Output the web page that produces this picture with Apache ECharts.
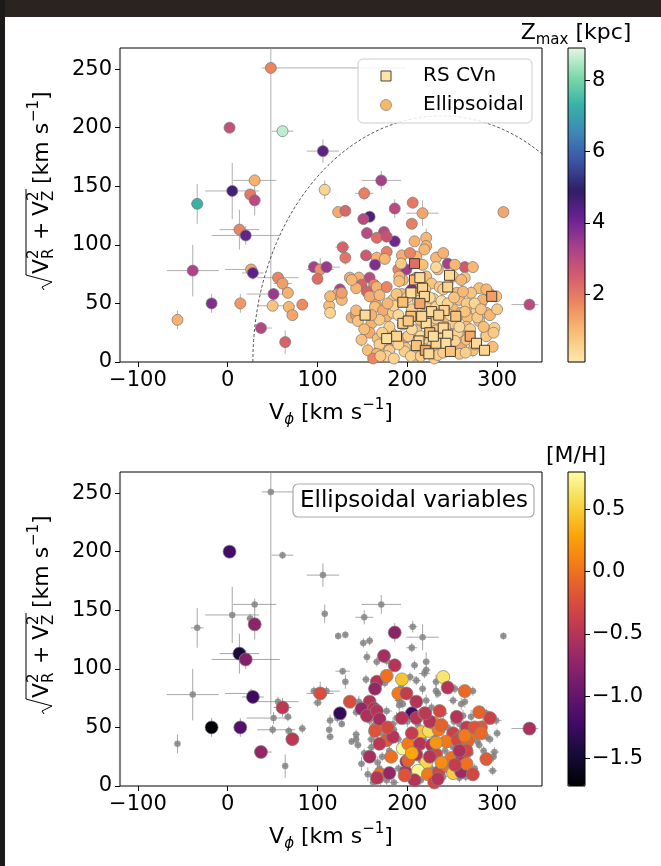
<!DOCTYPE html>
<html>
<head>
<meta charset="utf-8">
<script src="https://cdn.jsdelivr.net/npm/echarts@6/dist/echarts.min.js"></script>
<style>
html, body { margin: 0; padding: 0; background: #fff; }
#chart { width: 661px; height: 866px; }
</style>
</head>
<body>
<div id="chart"></div>
<script>
const font = "'DejaVu Sans', sans-serif"

// ellipsoidal variables: Vphi, sqrt(VR^2+VZ^2), Zmax, [M/H] (null = no metallicity)
const ellVphi = [
  48, 2, 61, 106, 30, 5, 25, 30, -34, 13,
  20, -39, 26, 28, -18, 14, -56, 37, 64, 56,
  61, 51, 67, 50, 68, 72, 83, 108, 96, 103,
  100, 110, 123, 131, 128, 131, 136, 125, 122, 127,
  113, 114, 138, 143, 171, 152, 206, 186, 217, 158,
  151, 205, 307, 155, 174, 166, 186, 177, 208, 221,
  221, 154, 166, 177, 164, 175, 146, 158, 149, 163,
  143, 155, 190, 199, 195, 210, 232, 240, 245, 264,
  273, 191, 221, 234, 251, 264, 194, 210, 205, 194,
  210, 219, 255, 292, 165, 216, 224, 235, 251, 260,
  270, 282, 177, 195, 201, 214, 227, 243, 256, 267,
  182, 199, 210, 221, 232, 249, 261, 288, 169, 180,
  198, 212, 223, 235, 245, 251, 260, 208, 230, 336,
  138, 166, 177, 191, 227, 236, 260, 280, 271, 158,
  169, 184, 229, 258, 266, 284, 299, 143, 164, 173,
  184, 232, 264, 277, 288, 145, 160, 169, 180, 232,
  251, 266, 280, 297, 149, 158, 167, 201, 256, 266,
  288, 169, 156, 166, 180, 197, 204, 234, 258, 273,
  295, 162, 177, 219, 232, 253, 217, 193, 203, 114,
  127, 185, 190, 205, 212, 218, 225, 230, 238, 242,
  245, 252, 258, 262, 270, 275, 278, 285, 190, 200,
  205, 215, 225, 228, 238, 240, 248, 253, 265, 275,
  282, 292, 300, 188, 172, 178, 160, 152, 170, 185,
  215, 220, 240, 288, 296
]
const ellVrz = [
  251, 200, 197, 180, 155, 146, 143, 138, 135, 113,
  108, 78, 79, 76, 50, 50, 36, 29, 17, 72,
  67, 58, 59, 48, 47, 40, 49, 147, 81, 79,
  71, 81, 128, 129, 98, 89, 72, 62, 58, 53,
  48, 42, 38, 40, 155, 144, 136, 131, 127, 124,
  122, 118, 128, 110, 111, 106, 103, 107, 103, 106,
  99, 91, 89, 94, 83, 88, 72, 72, 66, 66,
  63, 60, 79, 79, 70, 90, 89, 93, 84, 81,
  81, 73, 73, 79, 73, 72, 91, 72, 62, 58,
  58, 62, 59, 58, 49, 46, 47, 48, 45, 42,
  43, 50, 39, 32, 36, 36, 35, 38, 39, 38,
  25, 21, 27, 20, 27, 24, 23, 23, 10, 11,
  12, 13, 10, 12, 17, 11, 12, 5, 3, 49,
  70, 64, 64, 69, 67, 64, 70, 63, 59, 56,
  57, 53, 54, 53, 50, 53, 56, 44, 47, 44,
  42, 47, 43, 44, 42, 35, 33, 36, 30, 37,
  33, 30, 35, 29, 19, 25, 20, 22, 25, 19,
  22, 15, 10, 7, 10, 9, 5, 6, 7, 10,
  13, 3, 5, 96, 81, 83, 83, 84, 93, 56,
  59, 48, 40, 45, 52, 40, 55, 42, 52, 30,
  50, 55, 30, 60, 28, 50, 38, 30, 15, 55,
  28, 22, 25, 14, 20, 8, 40, 18, 8, 15,
  45, 40, 45, 58, 25, 50, 40, 28, 5, 3,
  5, 62, 62, 62, 25
]
const ellZmax = [
  1.8, 2.8, 8.6, 4.3, 1.1, 4.6, 2.0, 3.0, 7.3, 1.8,
  4.2, 3.2, 1.3, 4.3, 3.8, 1.5, 1.1, 3.1, 2.4, 1.8,
  1.4, 3.5, 1.1, 0.8, 1.0, 1.3, 1.7, 0.5, 3.3, 1.6,
  2.2, 3.5, 1.2, 2.3, 2.4, 2.1, 1.2, 3.2, 1.3, 1.0,
  0.9, 0.5, 1.1, 1.5, 3.3, 1.9, 2.0, 3.0, 1.3, 4.5,
  3.0, 1.9, 1.3, 3.0, 3.0, 2.2, 4.0, 2.8, 1.1, 1.0,
  1.1, 2.6, 1.1, 1.9, 3.8, 1.0, 1.1, 3.0, 2.4, 1.8,
  1.1, 2.4, 1.8, 3.4, 1.0, 1.0, 1.0, 1.1, 3.3, 2.6,
  1.0, 1.0, 0.9, 1.0, 0.9, 0.8, 1.2, 1.5, 3.8, 1.0,
  0.8, 0.9, 1.0, 1.8, 1.2, 0.6, 0.7, 0.8, 1.0, 0.9,
  1.0, 0.9, 1.1, 0.5, 0.7, 0.8, 0.9, 0.8, 1.0, 0.9,
  0.7, 1.6, 0.8, 0.5, 0.7, 0.8, 1.0, 0.7, 0.9, 1.5,
  0.8, 0.4, 0.6, 0.7, 0.6, 0.5, 1.2, 0.9, 0.6, 3.0,
  1.0, 1.1, 1.8, 0.9, 0.8, 0.7, 1.0, 0.9, 0.8, 1.2,
  1.0, 0.7, 0.6, 0.9, 0.7, 1.1, 0.8, 1.0, 0.9, 1.2,
  0.6, 0.5, 0.8, 0.6, 0.9, 0.8, 1.1, 0.7, 0.6, 0.6,
  0.7, 0.9, 0.8, 0.6, 0.8, 1.2, 0.9, 0.6, 0.5, 0.8,
  0.7, 0.6, 0.9, 1.0, 0.7, 0.6, 0.5, 0.6, 0.7, 0.8,
  0.9, 1.8, 0.5, 1.0, 0.4, 1.0, 0.9, 0.7, 1.8, 1.0,
  1.4, 0.5, 0.4, 0.6, 0.3, 0.5, 0.4, 0.7, 0.3, 0.6,
  0.5, 0.8, 0.4, 1.0, 0.6, 0.5, 0.7, 0.9, 0.5, 0.6,
  0.4, 0.3, 0.5, 0.4, 0.5, 0.6, 0.4, 0.5, 0.6, 0.5,
  0.8, 1.0, 0.7, 0.8, 0.6, 1.0, 1.1, 0.9, 0.7, 0.5,
  0.6, 0.5, 0.6, 1.0, 0.7
]
const ellMH = [
  null, -1.2, null, null, null, null, null, -0.75, null, -1.45,
  -0.8, null, null, -1.25, -1.75, -1.1, null, -0.7, null, null,
  -0.45, null, null, null, null, -0.45, null, null, null, -0.25,
  null, null, null, null, null, null, -0.25, -1.3, null, null,
  null, null, null, null, null, null, null, -0.75, null, null,
  null, null, null, null, -0.6, null, -0.5, null, null, null,
  null, null, -0.5, 0.0, -0.7, null, null, -0.5, -0.7, -0.5,
  null, -0.55, 0.05, -0.4, null, null, null, 0.65, -0.5, -0.05,
  null, null, null, null, null, null, 0.45, -0.5, -1.2, -0.5,
  -0.5, -0.2, -0.5, -0.35, 0.0, 0.45, 0.6, 0.05, -0.35, -0.2,
  0.0, -0.15, -0.15, 0.75, 0.05, -0.5, -0.5, 0.05, -0.3, -0.1,
  0.0, -0.75, -0.5, 0.55, -0.3, 0.0, -0.5, -0.15, 0.0, -0.7,
  -0.5, 0.75, 0.05, -0.3, 0.0, 0.5, -0.65, -0.5, -0.3, -0.55,
  null, -0.5, null, null, null, -0.3, null, -0.1, null, null,
  -0.6, null, 0.1, null, -0.4, null, null, null, -0.2, null,
  -0.5, null, 0.05, null, null, null, null, -0.45, null, 0.2,
  null, -0.3, null, null, null, -0.6, null, -0.1, null, 0.0,
  null, null, null, -0.5, null, -0.2, null, -0.5, null, -0.3,
  null, null, null, null, null, null, null, null, null, null,
  null, null, null, -0.4, null, null, -0.5, null, -0.1, null,
  null, null, -0.55, null, null, -0.2, null, null, null, null,
  0.3, null, -0.5, null, 0.15, null, null, -0.4, null, null,
  -0.05, null, null, null, null, -0.3, null, null, null, null,
  null, -0.45, null, null, null
]
// errors: a number is symmetric, a pair is [lower, upper]
const ellVphiErr = [
  [10, 150], 3, 12, 18, 24, 30, 4, 4, 7, 22,
  38, 29, [29, 5], 12, 3, 6, 3, [3, 12], 3, 23,
  10, [30, 20], 4, [17, 25], 4, 3, 4, 3, 4, 15,
  5, 15, 3, 3, 8, 3, 4, 3, 4, 3,
  3, 4, 3, 3, 22, 10, 5, 4, 18, 4,
  4, 6, 3, 4, 4, 4, 4, 4, 4, 4,
  5, 4, 4, 6, 4, 5, 4, 4, 5, 4,
  4, 4, 5, 4, 4, 5, 4, 4, 5, 4,
  4, 5, 4, 4, 5, 4, 4, 5, 4, 4,
  5, 4, 4, 5, 4, 4, 5, 4, 4, 6,
  4, 5, 4, 4, 5, 4, 4, 5, 4, 4,
  4, 5, 4, 4, 5, 4, 4, 5, 4, 4,
  5, 4, 4, 5, 4, 4, 5, 4, 4, [20, 10],
  5, 4, 6, 4, 5, 4, 4, 6, 4, 5,
  4, 6, 4, 5, 4, 4, 6, 4, 5, 4,
  4, 5, 4, 6, 4, 4, 5, 4, 4, 5,
  6, 4, 4, 5, 4, 6, 4, 4, 5, 4,
  4, 5, 4, 4, 6, 4, 4, 5, 4, 4,
  5, 4, 4, 6, 4, 5, 4, 4, 6, 4,
  5, 4, 4, 5, 4, 4, 5, 4, 4, 5,
  4, 4, 5, 4, 4, 5, 4, 4, 5, 4,
  4, 5, 4, 4, 5, 4, 4, 5, 4, 4,
  5, 4, 4, 5, 4, 4, 5, 4, 4, 5,
  4, 4, 5, 4, 4
]
const ellVrzErr = [
  190, 3, 3, 10, 5, 24, 4, 13, 17, 17,
  8, 22, 4, 6, 8, 8, 8, 3, 10, 4,
  8, 5, 4, 4, 4, 3, 4, 8, 4, 10,
  4, 4, 3, 3, 3, 6, 4, 4, 4, 3,
  3, 3, 3, 3, 8, 6, 5, 8, 11, 4,
  4, 4, 3, 5, 4, 4, 4, 4, 4, 8,
  4, 4, 5, 4, 4, 4, 5, 4, 4, 5,
  4, 4, 4, 5, 4, 4, 6, 4, 4, 5,
  4, 4, 5, 4, 4, 5, 4, 4, 5, 4,
  4, 5, 4, 4, 5, 4, 4, 5, 4, 4,
  5, 4, 4, 5, 4, 4, 5, 4, 4, 5,
  4, 4, 5, 4, 4, 5, 4, 4, 5, 4,
  4, 5, 4, 4, 5, 4, 4, 5, 4, 3,
  4, 5, 4, 6, 4, 4, 5, 4, 6, 4,
  5, 4, 4, 5, 4, 6, 4, 4, 5, 4,
  4, 6, 4, 5, 4, 4, 5, 4, 4, 6,
  4, 5, 4, 4, 6, 4, 5, 4, 4, 5,
  4, 4, 6, 4, 5, 4, 4, 5, 4, 6,
  4, 5, 4, 4, 6, 4, 5, 4, 4, 5,
  4, 4, 5, 4, 4, 5, 4, 4, 5, 4,
  5, 4, 4, 5, 4, 4, 5, 4, 4, 5,
  4, 5, 4, 4, 5, 4, 4, 5, 4, 4,
  5, 4, 4, 5, 4, 4, 5, 4, 4, 5,
  4, 4, 5, 4, 4
]

// RS CVn variables
const rsVphi = [208, 247, 245, 208, 214, 217, 204, 219, 195, 214, 294, 153, 204, 227, 241, 254, 195, 221, 240, 216,
  188, 177, 225, 245, 270, 213, 232, 243, 277, 210, 220, 286, 248, 224, 201, 229, 235]
const rsVrz = [84, 74, 64, 70, 72, 63, 59, 56, 51, 50, 56, 40, 39, 43, 44, 39, 33, 33, 29, 39,
  22, 20, 25, 23, 22, 18, 16, 16, 16, 14, 10, 10, 9, 7, 35, 22, 40]
const rsZmax = [2.2, 0.4, 0.5, 1.0, 0.4, 0.5, 0.3, 0.4, 0.9, 1.3, 1.4, 0.4, 0.9, 0.4, 0.5, 0.8, 0.5, 0.3, 0.4, 0.5,
  0.5, 0.3, 0.9, 0.3, 1.2, 0.4, 0.5, 0.3, 0.4, 0.8, 1.4, 0.5, 0.8, 0.4, 0.7, 0.3, 0.5]
const rsVphiErr = [3, 4, 3, 3, 4, 3, 3, 4, 3, 3, 5, 3, 3, 4, 3, 3, 3, 4, 3, 3,
  3, 4, 3, 3, 4, 3, 3, 3, 4, 3, 3, 4, 3, 3, 3, 4, 3]
const rsVrzErr = [3, 3, 4, 3, 3, 4, 3, 3, 4, 3, 4, 3, 3, 4, 3, 3, 4, 3, 3, 4,
  3, 3, 4, 3, 3, 4, 3, 3, 4, 3, 3, 4, 3, 3, 4, 3, 3]

const xTicks = [-100, 0, 100, 200, 300]
const yTicks = [0, 50, 100, 150, 200, 250]
const zTicks = [2, 4, 6, 8]
const mhTicks = [-1.5, -1.0, -0.5, 0.0, 0.5]

// boundary curve |V - V_lsr| = const
const curveCenter = 238
const curveRadius = 210

const zColors = ['#fde9ac', '#f9bf77', '#ee8a5f', '#d55c6c', '#a8418c', '#6a2391',
  '#2f1d68', '#3a52a3', '#3d86b8', '#36b3a6', '#7fd9ab', '#e3f7e3']
const infernoColors = ['#000004', '#160b39', '#420a68', '#6a176e', '#932667', '#bc3754',
  '#dd513a', '#f37819', '#fca50a', '#f6d746', '#fcffa4']

const X_MIN = -120, X_MAX = 350, Y_MIN = 0, Y_MAX = 268

const lo = e => (Array.isArray(e) ? e[0] : e)
const hi = e => (Array.isArray(e) ? e[1] : e)
const minus = v => (v < 0 ? '\u2212' + Math.abs(v) : String(v))

const ellTop = ellVphi.map((x, i) => [x, ellVrz[i], ellZmax[i]])
const ellErr = ellVphi.map((x, i) => [x, ellVrz[i],
  x - lo(ellVphiErr[i]), x + hi(ellVphiErr[i]),
  ellVrz[i] - lo(ellVrzErr[i]), ellVrz[i] + hi(ellVrzErr[i])])
const rsTop = rsVphi.map((x, i) => [x, rsVrz[i], rsZmax[i]])
const rsErr = rsVphi.map((x, i) => [x, rsVrz[i],
  x - rsVphiErr[i], x + rsVphiErr[i], rsVrz[i] - rsVrzErr[i], rsVrz[i] + rsVrzErr[i]])
const mhData = []
ellVphi.forEach((x, i) => {
  if (ellMH[i] !== null) mhData.push([x, ellVrz[i], ellMH[i]])
})

const curve = []
for (let a = 0; a <= 180; a++) {
  const t = a * Math.PI / 180
  curve.push([curveCenter - curveRadius * Math.cos(t), curveRadius * Math.sin(t)])
}

const clamp = (v, a, b) => Math.max(a, Math.min(b, v))
const errorBars = color => (params, api) => {
  const x = api.value(0), y = api.value(1)
  const a = api.coord([clamp(api.value(2), X_MIN, X_MAX), y])
  const b = api.coord([clamp(api.value(3), X_MIN, X_MAX), y])
  const c = api.coord([x, clamp(api.value(4), Y_MIN, Y_MAX)])
  const d = api.coord([x, clamp(api.value(5), Y_MIN, Y_MAX)])
  const st = { stroke: color, lineWidth: 1 }
  return {
    type: 'group',
    children: [
      { type: 'line', shape: { x1: a[0], y1: a[1], x2: b[0], y2: b[1] }, style: st },
      { type: 'line', shape: { x1: c[0], y1: c[1], x2: d[0], y2: d[1] }, style: st }
    ]
  }
}

const tickFont = { fontSize: 21, color: '#000', fontFamily: font }

const sciX = gi => ({
  gridIndex: gi, type: 'value', min: X_MIN, max: X_MAX,
  axisLine: { show: false, onZero: false },
  axisTick: { show: true, length: 5, customValues: xTicks, lineStyle: { color: '#000' } },
  axisLabel: Object.assign({ customValues: xTicks, margin: 8, formatter: minus }, tickFont),
  splitLine: { show: false }
})
const sciY = gi => ({
  gridIndex: gi, type: 'value', min: Y_MIN, max: Y_MAX,
  axisLine: { show: false, onZero: false },
  axisTick: { show: true, length: 5, customValues: yTicks, lineStyle: { color: '#000' } },
  axisLabel: Object.assign({ customValues: yTicks, margin: 8 }, tickFont),
  splitLine: { show: false }
})
const cbY = (gi, min, max, ticks, fmt) => ({
  gridIndex: gi, type: 'value', position: 'right', min, max,
  axisLine: { show: false, onZero: false },
  axisTick: { show: true, length: 5, customValues: ticks, lineStyle: { color: '#000' } },
  axisLabel: Object.assign({ customValues: ticks, margin: 7, formatter: fmt }, tickFont),
  splitLine: { show: false }
})
const hiddenX = gi => ({ gridIndex: gi, type: 'value', show: false, min: 0, max: 1 })

// rotated y label: sqrt(VR^2 + VZ^2) [km s^-1]
const yLabel = (x, y) => {
  const t = (text, px, py, size) => ({
    type: 'text', x: px, y: py,
    style: { text, fontSize: size, fontFamily: font, fill: '#000', align: 'left', verticalAlign: 'middle' }
  })
  return {
    type: 'group', x, y, rotation: Math.PI / 2, z: 100,
    children: [
      { type: 'polyline', shape: { points: [[0, 3], [3, 1], [8, 11], [15, -15], [101, -15]] },
        style: { stroke: '#000', lineWidth: 1, fill: null } },
      t('V', 16, 1, 22), t('2', 31, -7, 15), t('R', 31, 8, 15),
      t('+', 50, 1, 22),
      t('V', 74, 1, 22), t('2', 89, -7, 15), t('Z', 89, 8, 15),
      t('[km s', 106, 1, 22), t('\u22121', 168, -7, 15), t(']', 190, 1, 22)
    ]
  }
}
const richUnits = {
  b: { fontSize: 22, fontFamily: font, lineHeight: 30, verticalAlign: 'middle' },
  sub: { fontSize: 15, fontFamily: font, lineHeight: 15, verticalAlign: 'bottom' },
  it: { fontSize: 15, fontFamily: font, fontStyle: 'italic', lineHeight: 15, verticalAlign: 'bottom' },
  sup: { fontSize: 15, fontFamily: font, lineHeight: 15, verticalAlign: 'top' }
}
const xLabel = (x, y) => ({
  type: 'text', x, y, z: 100,
  style: { text: '{b|V}{it|\u03d5}{b| [km s}{sup|\u22121}{b|]}', rich: richUnits, fill: '#000', align: 'center', verticalAlign: 'middle' }
})

const chart = echarts.init(document.getElementById('chart'))

const option = {
  animation: false,
  backgroundColor: '#fff',
  grid: [
    { left: 120, top: 48, width: 422, height: 314, show: true, borderColor: '#000', borderWidth: 1, backgroundColor: 'transparent' },
    { left: 120, top: 472, width: 422, height: 314, show: true, borderColor: '#000', borderWidth: 1, backgroundColor: 'transparent' },
    { left: 568, top: 48, width: 17, height: 314 },
    { left: 568, top: 472, width: 17, height: 314 }
  ],
  xAxis: [sciX(0), sciX(1), hiddenX(2), hiddenX(3)],
  yAxis: [
    sciY(0), sciY(1),
    cbY(2, 0.1, 8.9, zTicks, v => String(v)),
    cbY(3, -1.72, 0.8, mhTicks, v => (v < 0 ? '\u2212' : '') + Math.abs(v).toFixed(1))
  ],
  visualMap: [
    {
      type: 'continuous', min: 0.1, max: 8.9, dimension: 2, seriesIndex: [3, 4],
      inRange: { color: zColors }, left: 568, top: 48, itemWidth: 17, itemHeight: 314,
      padding: 0, calculable: false, hoverLink: false, text: null
    },
    {
      type: 'continuous', min: -1.72, max: 0.8, dimension: 2, seriesIndex: [7],
      inRange: { color: infernoColors }, left: 568, top: 472, itemWidth: 17, itemHeight: 314,
      padding: 0, calculable: false, hoverLink: false, text: null
    }
  ],
  series: [
    { type: 'custom', xAxisIndex: 0, yAxisIndex: 0, data: ellErr, renderItem: errorBars('rgba(150,150,150,0.75)'), z: 1 },
    { type: 'custom', xAxisIndex: 0, yAxisIndex: 0, data: rsErr, renderItem: errorBars('rgba(150,150,150,0.75)'), z: 1 },
    {
      type: 'line', xAxisIndex: 0, yAxisIndex: 0, data: curve, showSymbol: false, z: 1,
      lineStyle: { color: '#555', width: 1, type: [3, 2] }
    },
    {
      type: 'scatter', xAxisIndex: 0, yAxisIndex: 0, data: ellTop, symbolSize: 11, z: 2,
      itemStyle: { borderColor: 'rgba(120,120,120,0.9)', borderWidth: 0.8, opacity: 1 }
    },
    {
      type: 'scatter', xAxisIndex: 0, yAxisIndex: 0, data: rsTop, symbol: 'rect', symbolSize: 10, z: 3,
      itemStyle: { borderColor: '#4a4030', borderWidth: 1, opacity: 1 }
    },
    { type: 'custom', xAxisIndex: 1, yAxisIndex: 1, data: ellErr, renderItem: errorBars('rgba(130,130,130,0.7)'), z: 1 },
    {
      type: 'scatter', xAxisIndex: 1, yAxisIndex: 1, data: ellTop, symbolSize: 6.5, z: 2,
      itemStyle: { color: '#7f7f7f' }
    },
    {
      type: 'scatter', xAxisIndex: 1, yAxisIndex: 1, data: mhData, symbolSize: 13, z: 3,
      itemStyle: { borderColor: 'rgba(130,130,130,0.9)', borderWidth: 0.8, opacity: 1 }
    },
    { type: 'scatter', xAxisIndex: 2, yAxisIndex: 2, data: [] },
    { type: 'scatter', xAxisIndex: 3, yAxisIndex: 3, data: [] }
  ],
  graphic: [
    { type: 'rect', shape: { x: 0, y: 0, width: 661, height: 17 }, style: { fill: '#2b231f' }, z: 100 },
    { type: 'rect', shape: { x: 0, y: 0, width: 5, height: 866 }, style: { fill: '#1c1a19' }, z: 100 },
    // colorbar outlines
    { type: 'rect', shape: { x: 568, y: 48, width: 17, height: 314 }, style: { fill: null, stroke: '#000', lineWidth: 1 }, z: 100 },
    { type: 'rect', shape: { x: 568, y: 472, width: 17, height: 314 }, style: { fill: null, stroke: '#000', lineWidth: 1 }, z: 100 },
    {
      type: 'text', x: 576, y: 33, z: 100,
      style: { text: '{b|Z}{sub|max}{b| [kpc]}', rich: richUnits, fill: '#000', align: 'center', verticalAlign: 'middle' }
    },
    {
      type: 'text', x: 576, y: 456, z: 100,
      style: { text: '[M/H]', fontSize: 22, fontFamily: font, fill: '#000', align: 'center', verticalAlign: 'middle' }
    },
    // legend of the top panel
    { type: 'rect', shape: { x: 358, y: 59, width: 174, height: 64, r: 5 }, style: { fill: 'rgba(255,255,255,0.85)', stroke: '#cccccc', lineWidth: 1 }, z: 100 },
    { type: 'rect', shape: { x: 381, y: 71, width: 10, height: 10 }, style: { fill: '#fde5a6', stroke: '#4a4030', lineWidth: 1 }, z: 101 },
    { type: 'circle', shape: { cx: 386, cy: 105, r: 5.5 }, style: { fill: '#f8b966', stroke: '#888', lineWidth: 0.8 }, z: 101 },
    { type: 'text', x: 423, y: 76, z: 101, style: { text: 'RS CVn', fontSize: 20, fontFamily: font, fill: '#000', verticalAlign: 'middle' } },
    { type: 'text', x: 423, y: 105, z: 101, style: { text: 'Ellipsoidal', fontSize: 20, fontFamily: font, fill: '#000', verticalAlign: 'middle' } },
    // label box of the bottom panel
    { type: 'rect', shape: { x: 293, y: 484, width: 241, height: 33, r: 5 }, style: { fill: '#fff', stroke: '#aaaaaa', lineWidth: 1.2 }, z: 100 },
    { type: 'text', x: 300, y: 501, z: 101, style: { text: 'Ellipsoidal variables', fontSize: 23, fontFamily: font, fill: '#000', verticalAlign: 'middle' } },
    xLabel(331, 413),
    xLabel(331, 837),
    yLabel(41, 290),
    yLabel(41, 714)
  ]
}

chart.setOption(option)
</script>
</body>
</html>
